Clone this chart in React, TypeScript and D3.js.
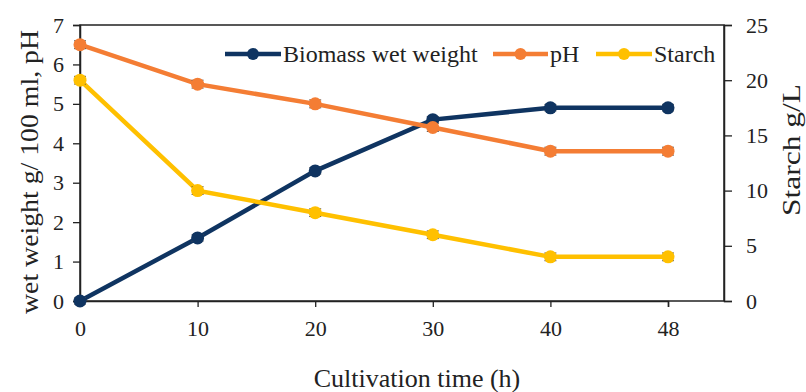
import React, { useEffect, useRef } from "react";
import * as d3 from "d3";

const times = ["0", "10", "20", "30", "40", "48"];
const biomass = [0, 1.6, 3.3, 4.6, 4.9, 4.9];
const ph = [6.5, 5.5, 5.0, 4.4, 3.8, 3.8];
const starch = [20, 10, 8, 6, 4, 4];
const leftTicks = [0, 1, 2, 3, 4, 5, 6, 7];
const rightTicks = [0, 5, 10, 15, 20, 25];

const App = () => {
  const svgRef = useRef<SVGSVGElement>(null);

  useEffect(() => {
    const width = 806;
    const height = 392;
    const left = 80;
    const right = 724;
    const top = 25;
    const bottom = 301;
    const font = "Liberation Serif";

    const svg = d3.select(svgRef.current);
    svg.selectAll("*").remove();
    svg.attr("width", width).attr("height", height);

    const x = d3.scalePoint().domain(times).range([left, 668]);
    const yL = d3.scaleLinear().domain([0, 7]).range([bottom, top]);
    const yR = d3.scaleLinear().domain([0, 25]).range([bottom, top]);

    // plot frame
    svg
      .append("rect")
      .attr("x", left)
      .attr("y", top)
      .attr("width", right - left)
      .attr("height", bottom - top)
      .attr("fill", "none")
      .attr("stroke", "#222")
      .attr("stroke-width", 1.5);

    const gl = svg.append("g").attr("transform", `translate(${left},0)`);
    gl.call(
      d3.axisLeft(yL).tickValues(leftTicks).tickFormat(d3.format("d")).tickSize(7).tickPadding(9)
    );
    const gr = svg.append("g").attr("transform", `translate(${right},0)`);
    gr.call(d3.axisRight(yR).tickValues(rightTicks).tickSize(8).tickPadding(14));
    const gb = svg.append("g").attr("transform", `translate(0,${bottom})`);
    gb.call(d3.axisBottom(x).tickSize(6).tickPadding(13));

    [gl, gr, gb].forEach((g) => {
      g.attr("font-family", font).attr("font-size", 22);
      g.select(".domain").attr("stroke", "#222").attr("stroke-width", 1.5);
      g.selectAll(".tick line").attr("stroke", "#222").attr("stroke-width", 1.3);
      g.selectAll(".tick text").attr("fill", "#222");
    });

    const series = [
      { name: "Biomass wet weight", values: biomass, scale: yL, color: "#0f3461", err: 0.08 },
      { name: "pH", values: ph, scale: yL, color: "#f47d34", err: 0.1 },
      { name: "Starch", values: starch, scale: yR, color: "#ffc000", err: 0.35 },
    ];

    series.forEach((s) => {
      const line = d3
        .line<number>()
        .x((_, i) => x(times[i]) as number)
        .y((d) => s.scale(d));
      svg
        .append("path")
        .datum(s.values)
        .attr("fill", "none")
        .attr("stroke", s.color)
        .attr("stroke-width", 4.5)
        .attr("d", line);

      // error bars
      svg
        .selectAll(null)
        .data(s.values)
        .join("path")
        .attr("d", (d, i) => {
          const cx = x(times[i]) as number;
          const y1 = s.scale(d + s.err);
          const y2 = s.scale(d - s.err);
          return `M${cx - 6},${y1}H${cx + 6}M${cx},${y1}V${y2}M${cx - 6},${y2}H${cx + 6}`;
        })
        .attr("stroke", "#555")
        .attr("stroke-width", 1)
        .attr("fill", "none");

      svg
        .selectAll(null)
        .data(s.values)
        .join("circle")
        .attr("cx", (_, i) => x(times[i]) as number)
        .attr("cy", (d) => s.scale(d))
        .attr("r", 6.5)
        .attr("fill", s.color);
    });

    // legend
    const legendItems = [
      { x0: 225, x1: 281, tx: 283 },
      { x0: 493, x1: 548, tx: 550 },
      { x0: 596, x1: 652, tx: 654 },
    ];
    const ly = 54;
    series.forEach((s, i) => {
      const l = legendItems[i];
      svg
        .append("line")
        .attr("x1", l.x0)
        .attr("x2", l.x1)
        .attr("y1", ly)
        .attr("y2", ly)
        .attr("stroke", s.color)
        .attr("stroke-width", 4.5);
      svg
        .append("circle")
        .attr("cx", (l.x0 + l.x1) / 2)
        .attr("cy", ly)
        .attr("r", 6)
        .attr("fill", s.color);
      svg
        .append("text")
        .attr("x", l.tx)
        .attr("y", ly + 8)
        .attr("font-family", font)
        .attr("font-size", 24)
        .attr("fill", "#222")
        .text(s.name);
    });

    // axis titles
    svg
      .append("text")
      .attr("transform", `translate(38,172) rotate(-90)`)
      .attr("text-anchor", "middle")
      .attr("font-family", font)
      .attr("font-size", 25)
      .attr("textLength", 284)
      .attr("lengthAdjust", "spacingAndGlyphs")
      .attr("fill", "#222")
      .text("wet weight g/ 100 ml, pH");

    svg
      .append("text")
      .attr("transform", `translate(800,150) rotate(-90)`)
      .attr("text-anchor", "middle")
      .attr("font-family", font)
      .attr("font-size", 25)
      .attr("textLength", 132)
      .attr("lengthAdjust", "spacingAndGlyphs")
      .attr("fill", "#222")
      .text("Starch g/L");

    svg
      .append("text")
      .attr("x", 417)
      .attr("y", 387)
      .attr("text-anchor", "middle")
      .attr("font-family", font)
      .attr("font-size", 26)
      .attr("fill", "#222")
      .text("Cultivation time (h)");
  }, []);

  return (
    <div style={{ position: "absolute", left: 0, top: 0 }}>
      <svg ref={svgRef} />
    </div>
  );
};

export default App;
